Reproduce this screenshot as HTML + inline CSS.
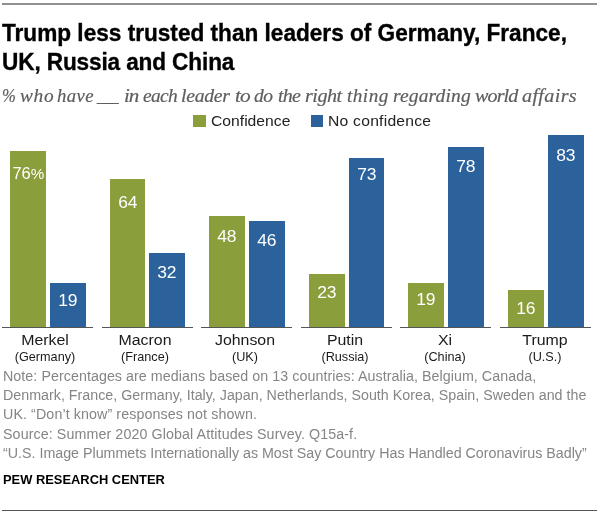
<!DOCTYPE html>
<html lang="en"><head><meta charset="utf-8"><title>Trump less trusted than leaders of Germany, France, UK, Russia and China</title>
<style>
html,body{margin:0;padding:0;background:#fff}
body{width:600px;height:514px;position:relative;overflow:hidden;font-family:"Liberation Sans",sans-serif;color:#000}
.abs{position:absolute;white-space:nowrap}
.rule{position:absolute;left:2px;width:595px;height:1.3px;background:#909090}
.title{position:absolute;left:2px;top:19.1px;font-weight:bold;font-size:23.8px;line-height:28.4px;white-space:nowrap;transform:scaleX(0.950);transform-origin:0 0;-webkit-text-stroke:0.35px #000}
.sub{position:absolute;left:3px;top:85px;width:590px;height:22px;font-family:"Liberation Serif",serif;font-style:italic;font-size:18.5px;line-height:22px;color:#5e5e5e;-webkit-text-stroke:0.2px #5e5e5e;white-space:nowrap}
.sub span{position:absolute;top:0;transform-origin:0 0}

.leg{position:absolute;top:112.4px;font-size:14.8px;line-height:18px;color:#222;white-space:nowrap;transform:scaleX(1.06);transform-origin:0 0}
.sq{position:absolute;top:114.5px;width:12.6px;height:12.4px}
.bar{position:absolute}
.bar span{position:absolute;left:0;right:0;top:7px;text-align:center;color:#fff;font-size:16.5px;line-height:18px;transform:scaleX(1.06)}
.bar i{font-style:normal;font-size:15.2px}
.g{background:#8a9e3b} .b{background:#2b629c}
.axis{position:absolute;top:327px;height:1px;background:#555}
.name{position:absolute;top:330.6px;width:100px;text-align:center;font-size:14.9px;line-height:18px;color:#1a1a1a;transform:scaleX(1.067)}
.ctry{position:absolute;top:348.9px;width:100px;text-align:center;font-size:12.2px;line-height:16px;color:#1a1a1a;transform:scaleX(1.04)}
.note{position:absolute;left:3px;top:367px;font-size:14.25px;line-height:19.2px;color:#858585;white-space:nowrap}
.pew{position:absolute;left:3px;top:472.1px;font-weight:bold;font-size:13.6px;line-height:16px;color:#000;white-space:nowrap;transform:scaleX(0.948);transform-origin:0 0}
</style></head><body>
<div class="rule" style="top:3.3px"></div>
<div class="title">Trump less trusted than leaders of Germany, France,<br><span style="letter-spacing:-0.14px">UK, Russia and China</span></div>
<div class="sub"><span style="left:-0.6px;letter-spacing:0px;transform:scaleX(0.9)">%</span> <span style="left:16.9px;letter-spacing:0.71px;transform:scaleX(1.044)">who</span> <span style="left:54.3px;letter-spacing:0.43px;transform:scaleX(1.011)">have</span> <span style="left:93.6px;letter-spacing:-3.95px;transform:scaleX(1.095)">___</span> <span style="left:120.8px;letter-spacing:-0.9px;transform:scaleX(1.133)">in</span> <span style="left:140.3px;letter-spacing:-0.66px;transform:scaleX(1.05)">each</span> <span style="left:177.6px;letter-spacing:-0.27px;transform:scaleX(1.065)">leader</span> <span style="left:231.9px;letter-spacing:-0.84px;transform:scaleX(1.154)">to</span> <span style="left:251.3px;letter-spacing:-0.55px;transform:scaleX(1.056)">do</span> <span style="left:275.2px;letter-spacing:-0.69px;transform:scaleX(1.08)">the</span> <span style="left:302.4px;letter-spacing:-0.46px;transform:scaleX(1.085)">right</span> <span style="left:344.2px;letter-spacing:0.46px;transform:scaleX(1.036)">thing</span> <span style="left:390.0px;letter-spacing:0.12px;transform:scaleX(1.055)">regarding</span> <span style="left:472.2px;letter-spacing:-0.83px;transform:scaleX(1.088)">world</span> <span style="left:519.0px;letter-spacing:0.31px;transform:scaleX(1.09)">affairs</span></div>
<div class="sq g" style="left:193px"></div><div class="leg" style="left:211px">Confidence</div>
<div class="sq b" style="left:310.75px"></div><div class="leg" style="left:327.6px;letter-spacing:0.22px">No confidence</div>
<div class="bar g" style="left:10.00px;top:151.25px;width:35.75px;height:175.75px"><span style="top:12.65px;transform:none;left:1px">76<i>%</i></span></div>
<div class="bar b" style="left:49.75px;top:283.06px;width:35.75px;height:43.94px"><span style="top:8.44px">19</span></div>
<div class="axis" style="left:2.00px;width:91.00px"></div>
<div class="name" style="left:-5.30px">Merkel</div>
<div class="ctry" style="left:-5.30px">(Germany)</div>
<div class="bar g" style="left:109.60px;top:179.00px;width:35.75px;height:148.00px"><span style="top:14.00px">64</span></div>
<div class="bar b" style="left:149.35px;top:253.00px;width:35.75px;height:74.00px"><span style="top:10.00px">32</span></div>
<div class="axis" style="left:101.60px;width:91.00px"></div>
<div class="name" style="left:94.80px">Macron</div>
<div class="ctry" style="left:94.80px">(France)</div>
<div class="bar g" style="left:209.20px;top:216.00px;width:35.75px;height:111.00px"><span style="top:11.00px">48</span></div>
<div class="bar b" style="left:248.95px;top:220.62px;width:35.75px;height:106.38px"><span style="top:10.68px">46</span></div>
<div class="axis" style="left:201.20px;width:91.00px"></div>
<div class="name" style="left:194.90px">Johnson</div>
<div class="ctry" style="left:194.90px">(UK)</div>
<div class="bar g" style="left:308.80px;top:273.81px;width:35.75px;height:53.19px"><span style="top:8.99px">23</span></div>
<div class="bar b" style="left:348.55px;top:158.19px;width:35.75px;height:168.81px"><span style="top:6.81px">73</span></div>
<div class="axis" style="left:300.80px;width:91.00px"></div>
<div class="name" style="left:295.00px">Putin</div>
<div class="ctry" style="left:295.00px">(Russia)</div>
<div class="bar g" style="left:408.40px;top:283.06px;width:35.75px;height:43.94px"><span style="top:6.74px">19</span></div>
<div class="bar b" style="left:448.15px;top:146.62px;width:35.75px;height:180.38px"><span style="top:10.38px">78</span></div>
<div class="axis" style="left:400.40px;width:91.00px"></div>
<div class="name" style="left:395.10px">Xi</div>
<div class="ctry" style="left:395.10px">(China)</div>
<div class="bar g" style="left:508.00px;top:290.00px;width:35.75px;height:37.00px"><span style="top:8.80px">16</span></div>
<div class="bar b" style="left:547.75px;top:135.06px;width:35.75px;height:191.94px"><span style="top:10.94px">83</span></div>
<div class="axis" style="left:500.00px;width:91.00px"></div>
<div class="name" style="left:495.20px">Trump</div>
<div class="ctry" style="left:495.20px">(U.S.)</div>
<div class="note"><span style="letter-spacing:0.06px">Note: Percentages are medians based on 13 countries: Australia, Belgium, Canada,</span><br><span style="letter-spacing:0.01px">Denmark, France, Germany, Italy, Japan, Netherlands, South Korea, Spain, Sweden and the</span><br><span style="letter-spacing:0.1px">UK. “Don’t know” responses not shown.</span><br><span style="letter-spacing:0.1px">Source: Summer 2020 Global Attitudes Survey. Q15a-f.</span><br>“U.S. Image Plummets Internationally as Most Say Country Has Handled Coronavirus Badly”</div>
<div class="pew">PEW RESEARCH CENTER</div>
<div class="rule" style="top:509.5px;left:1.5px;width:595.5px;background:#555"></div>
</body></html>
